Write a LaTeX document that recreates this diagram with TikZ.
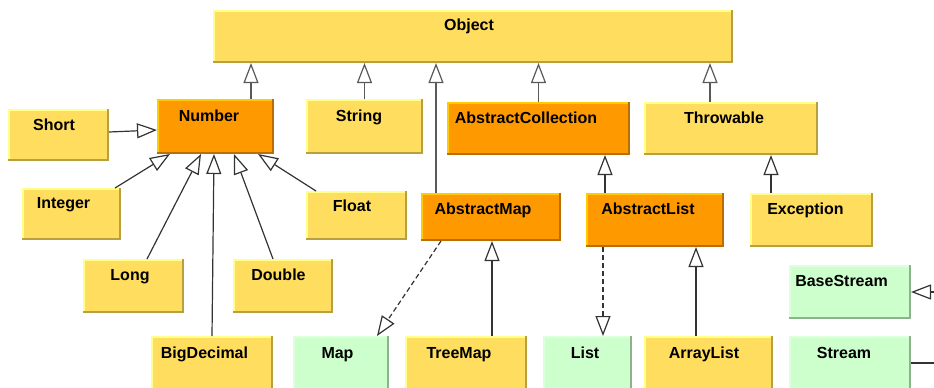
\documentclass[tikz,border=0pt]{standalone}
\usepackage{fontspec}
\setmainfont{Liberation Sans}
\usetikzlibrary{arrows.meta,fit}
\definecolor{yfill}{HTML}{FFDD5E}
\definecolor{ylight}{HTML}{FFFF8C}
\definecolor{ydark}{HTML}{B8A040}
\definecolor{ofill}{HTML}{FF9900}
\definecolor{olight}{HTML}{FFCC00}
\definecolor{odark}{HTML}{B86E00}
\definecolor{gfill}{HTML}{CCFFCC}
\definecolor{glight}{HTML}{DDFFDD}
\definecolor{gdark}{HTML}{8DB38D}
\newcommand\ubox[6]{%
  \node[fit={(#2,#3) (#4,#5)}, inner sep=0pt, outer sep=0pt, fill=#6fill, draw=none] (#1) {};
  \draw[#6light, line width=2pt] ([xshift=1pt,yshift=1pt]#1.south west) -- ([xshift=1pt,yshift=-1pt]#1.north west) -- ([xshift=-1pt,yshift=-1pt]#1.north east);
  \draw[#6dark, line width=2.5pt] ([xshift=-1.2pt]#1.north east) -- ([xshift=-1.2pt,yshift=1.2pt]#1.south east) -- ([yshift=1.2pt]#1.south west);
}
\tikzset{
  lbl/.style={anchor=base, inner sep=0pt, font=\fontsize{16}{18}\selectfont\bfseries, text=black},
  inh/.style={draw=black!80, line width=1.2pt, -{Triangle[open, length=20pt, width=15pt, line width=1.2pt, fill=white]}},
  inhg/.style={inh, draw=black!65, line width=1.8pt},
  impl/.style={inh, dash pattern=on 5pt off 3pt},
}
\begin{document}
\begin{tikzpicture}[x=1pt,y=-1pt]
\useasboundingbox (0,0) rectangle (934,388);
\clip (0,0) rectangle (934,388);
% boxes
\ubox{obj}{213}{10}{733}{63}{y}
\ubox{num}{157}{99}{274}{154}{o}
\ubox{short}{8}{109}{109}{161}{y}
\ubox{str}{306}{99}{423}{154}{y}
\ubox{ac}{447}{102}{630}{155}{o}
\ubox{thr}{644}{102}{818}{155}{y}
\ubox{int}{22}{188}{121}{240}{y}
\ubox{flt}{306}{191}{407}{240}{y}
\ubox{lng}{83}{259}{184}{313}{y}
\ubox{dbl}{233}{259}{333}{313}{y}
\ubox{bd}{151}{336}{273}{398}{y}
\ubox{map}{293}{336}{389}{398}{g}
\ubox{tm}{405}{336}{527}{398}{y}
\ubox{am}{421}{193}{561}{241}{o}
\ubox{al}{586}{193}{724}{247}{o}
\ubox{exc}{750}{193}{873}{247}{y}
\ubox{bs}{789}{265}{911}{319}{g}
\ubox{st}{789}{336}{911}{398}{g}
\ubox{lst}{543}{336}{632}{398}{g}
\ubox{arr}{644}{336}{773}{398}{y}
% labels
\node[lbl] (objT) at (469,30) {Object};
\node[lbl] (numT) at (209,121) {Number};
\node[lbl] (shortT) at (54,130) {Short};
\node[lbl] (strT) at (359,121) {String};
\node[lbl] (acT) at (526,123) {AbstractCollection};
\node[lbl] (thrT) at (724,123) {Throwable};
\node[lbl] (intT) at (63.5,208) {Integer};
\node[lbl] (fltT) at (352,211) {Float};
\node[lbl] (lngT) at (130,280) {Long};
\node[lbl] (dblT) at (278.5,280) {Double};
\node[lbl] (bdT) at (204.5,358) {BigDecimal};
\node[lbl] (mapT) at (337.5,358) {Map};
\node[lbl] (tmT) at (459,358) {TreeMap};
\node[lbl] (amT) at (483,214) {AbstractMap};
\node[lbl] (alT) at (648,214) {AbstractList};
\node[lbl] (excT) at (805.5,214) {Exception};
\node[lbl] (bsT) at (841.5,286) {BaseStream};
\node[lbl] (stT) at (844,358) {Stream};
\node[lbl] (lstT) at (585,358) {List};
\node[lbl] (arrT) at (704,358) {ArrayList};
% connectors to Object
\draw[inhg] ([xshift=35.5pt]num.north) coordinate (c1) -- (c1 |- obj.south);
\draw[inhg] (str.north) -- (str.north |- obj.south);
\draw[inhg] ([xshift=-55pt]am.north) coordinate (c2) -- (c2 |- obj.south);
\draw[inhg] (ac.north) -- (ac.north |- obj.south);
\draw[inhg] ([xshift=-21pt]thr.north) coordinate (c3) -- (c3 |- obj.south);
% Number subclasses
\draw[inh] ([yshift=3pt]short.east) -- ([yshift=-3.5pt]num.west);
\draw[inh] ([xshift=-6pt]int.north east) -- ([xshift=13pt]num.south west);
\draw[inh] ([xshift=64pt]lng.north west) -- ([xshift=44pt]num.south west);
\draw[inh] ([xshift=61pt]bd.north west) -- ([xshift=57pt]num.south west);
\draw[inh] ([xshift=40pt]dbl.north west) -- ([xshift=77pt]num.south west);
\draw[inh] ([xshift=10pt]flt.north west) -- ([xshift=101pt]num.south west);
% others
\draw[inh] ([xshift=-50pt]al.north) coordinate (c4) -- (c4 |- ac.south);
\draw[inh] ([xshift=-40.5pt]exc.north) coordinate (c5) -- (c5 |- thr.south);
\draw[inh] ([xshift=26pt]tm.north) coordinate (c6) -- (c6 |- am.south);
\draw[inh] ([xshift=-12.5pt]arr.north) coordinate (c7) -- (c7 |- al.south);
\draw[impl] ([xshift=-52pt]al.south) coordinate (c8) -- (c8 |- lst.north);
\draw[impl] ([xshift=20pt]am.south west) -- ([xshift=-12pt]map.north east);
\coordinate (bsEnd) at (945,292);
\draw[inh] (bsEnd) -- (bs.east);
\coordinate (stEnd) at (945,363);
\draw[draw=black!80, line width=1.2pt] (stEnd -| st.east) -- (stEnd);
\end{tikzpicture}
\end{document}
